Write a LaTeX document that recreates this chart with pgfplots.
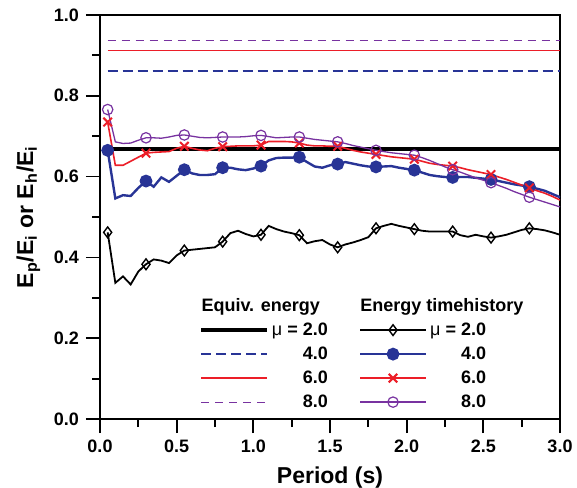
\documentclass[border=0pt]{standalone}
\usepackage{fontspec}
\setmainfont{Liberation Sans}
\usepackage{pgfplots}
\usepackage{pgfplotstable}
\pgfplotsset{compat=1.18}
\definecolor{thblue}{RGB}{40,52,150}
\definecolor{thred}{RGB}{236,30,40}
\definecolor{thpurple}{RGB}{120,50,160}

% energy time history ratios, one column per ductility mu
\pgfplotstableread{
T     m2     m4     m6     m8
0.05  0.462  0.665  0.735  0.766
0.10  0.337  0.546  0.628  0.686
0.15  0.353  0.554  0.628  0.682
0.20  0.333  0.552  0.638  0.683
0.25  0.365  0.572  0.648  0.690
0.30  0.383  0.589  0.658  0.696
0.35  0.395  0.575  0.660  0.696
0.40  0.392  0.598  0.661  0.695
0.45  0.386  0.587  0.662  0.698
0.50  0.405  0.602  0.670  0.702
0.55  0.417  0.617  0.675  0.703
0.60  0.419  0.608  0.670  0.700
0.65  0.421  0.604  0.666  0.697
0.70  0.423  0.604  0.664  0.696
0.75  0.425  0.606  0.670  0.697
0.80  0.439  0.622  0.674  0.698
0.85  0.460  0.622  0.675  0.698
0.90  0.466  0.618  0.676  0.698
0.95  0.458  0.616  0.676  0.699
1.00  0.452  0.620  0.676  0.701
1.05  0.456  0.626  0.678  0.702
1.10  0.478  0.640  0.687  0.699
1.15  0.470  0.646  0.687  0.696
1.20  0.464  0.647  0.687  0.697
1.25  0.460  0.647  0.686  0.698
1.30  0.455  0.648  0.683  0.698
1.35  0.435  0.636  0.678  0.695
1.40  0.440  0.625  0.676  0.692
1.45  0.443  0.622  0.676  0.690
1.50  0.432  0.628  0.675  0.688
1.55  0.425  0.631  0.675  0.686
1.60  0.432  0.636  0.670  0.682
1.65  0.437  0.632  0.665  0.677
1.70  0.443  0.628  0.661  0.673
1.75  0.450  0.625  0.658  0.669
1.80  0.472  0.624  0.655  0.665
1.85  0.478  0.625  0.652  0.662
1.90  0.483  0.626  0.649  0.659
1.95  0.478  0.622  0.647  0.657
2.00  0.474  0.619  0.645  0.655
2.05  0.470  0.616  0.643  0.653
2.10  0.466  0.610  0.638  0.647
2.15  0.464  0.604  0.633  0.640
2.20  0.464  0.601  0.630  0.632
2.25  0.464  0.599  0.628  0.624
2.30  0.464  0.598  0.626  0.617
2.35  0.455  0.599  0.622  0.611
2.40  0.451  0.599  0.617  0.604
2.45  0.456  0.597  0.613  0.597
2.50  0.452  0.595  0.609  0.591
2.55  0.449  0.593  0.605  0.585
2.60  0.452  0.589  0.599  0.578
2.65  0.456  0.585  0.593  0.571
2.70  0.462  0.581  0.586  0.563
2.75  0.468  0.578  0.579  0.556
2.80  0.472  0.575  0.572  0.549
2.85  0.470  0.570  0.565  0.543
2.90  0.467  0.565  0.559  0.537
2.95  0.462  0.557  0.551  0.531
3.00  0.456  0.549  0.542  0.525
}\timehist

\pgfplotsset{
  eqtwo/.style={black, line width=1.8pt},
  eqfour/.style={thblue, line width=1.3pt, dash pattern=on 5pt off 2.5pt},
  eqsix/.style={thred, line width=0.7pt},
  eqeight/.style={thpurple, line width=0.6pt, dash pattern=on 4pt off 3pt},
  thtwo/.style={black, line width=0.9pt, mark=diamond, mark size=2.7pt,
    mark options={solid, fill=white, line width=0.7pt}},
  thfour/.style={thblue, line width=1.2pt, mark=*, mark size=2.6pt},
  thsix/.style={thred, line width=0.8pt, mark=x, mark size=3pt,
    mark options={line width=1pt}},
  theight/.style={thpurple, line width=0.65pt, mark=o, mark size=2.6pt,
    mark options={line width=0.6pt}},
}

\begin{document}
\begin{tikzpicture}
\path[use as bounding box] (0,0) rectangle (288.5pt,243.5pt);
\begin{axis}[
  at={(50pt,34pt)}, anchor=south west,
  scale only axis, width=230pt, height=202pt,
  xmin=0, xmax=3, ymin=0, ymax=1,
  xtick={0,0.5,1,1.5,2,2.5,3}, minor x tick num=1,
  ytick={0,0.2,0.4,0.6,0.8,1.0}, minor y tick num=1,
  tick align=outside, xtick pos=bottom, ytick pos=left,
  major tick length=7pt, minor tick length=4pt,
  axis line style={line width=1pt},
  every tick/.style={black, line width=0.9pt},
  /pgf/number format/assume math mode=true,
  xticklabel style={/pgf/number format/.cd, fixed, fixed zerofill, precision=1},
  yticklabel style={/pgf/number format/.cd, fixed, fixed zerofill, precision=1},
  tick label style={font=\fontsize{9}{10}\selectfont\bfseries},
  label style={font=\fontsize{11.5}{13}\selectfont\bfseries},
  xlabel={Period (s)},
  ylabel={E\textsubscript{p}/E\textsubscript{i} or E\textsubscript{h}/E\textsubscript{i}},
  legend columns=2, legend cell align=right,
  legend image code/.code={\draw[mark repeat=2,mark phase=2]
    plot coordinates {(0pt,0pt) (16.5pt,0pt) (33pt,0pt)};},
  legend style={draw=none, fill=none, at={(rel axis cs:0.202,0.32)},
    anchor=north west, font=\fontsize{9}{10}\selectfont\bfseries,
    nodes={text height=7pt, text depth=2pt, inner sep=1.5pt},
    /tikz/every even column/.append style={column sep=14pt}},
]
% equivalent energy levels
\addplot[eqtwo, forget plot] coordinates {(0.05,0.669) (3.0,0.669)};
\addplot[eqfour, forget plot] coordinates {(0.05,0.861) (3.0,0.861)};
\addplot[eqsix, forget plot] coordinates {(0.05,0.912) (3.0,0.912)};
\addplot[eqeight, forget plot] coordinates {(0.05,0.936) (3.0,0.936)};
% energy time histories, markers every 0.25 s
\addplot[thtwo, mark repeat=5, mark phase=1, forget plot] table[x=T, y=m2] {\timehist};
\addplot[thfour, mark repeat=5, mark phase=1, forget plot] table[x=T, y=m4] {\timehist};
\addplot[thsix, mark repeat=5, mark phase=1, forget plot] table[x=T, y=m6] {\timehist};
\addplot[theight, mark repeat=5, mark phase=1, forget plot] table[x=T, y=m8] {\timehist};
% legend
\addlegendimage{legend image code/.code={\node[overlay, anchor=west, inner sep=0pt, text=black] at (0pt,0pt) {Equiv. energy};}}
\addlegendentry{}
\addlegendimage{legend image code/.code={\node[overlay, anchor=west, inner sep=0pt, text=black] at (0pt,0pt) {Energy timehistory};}}
\addlegendentry{}
\addlegendimage{eqtwo}\addlegendentry{{\mdseries μ} = 2.0}
\addlegendimage{thtwo}\addlegendentry{{\mdseries μ} = 2.0}
\addlegendimage{eqfour}\addlegendentry{4.0}
\addlegendimage{thfour}\addlegendentry{4.0}
\addlegendimage{eqsix}\addlegendentry{6.0}
\addlegendimage{thsix}\addlegendentry{6.0}
\addlegendimage{eqeight}\addlegendentry{8.0}
\addlegendimage{theight}\addlegendentry{8.0}
\end{axis}
\end{tikzpicture}
\end{document}
